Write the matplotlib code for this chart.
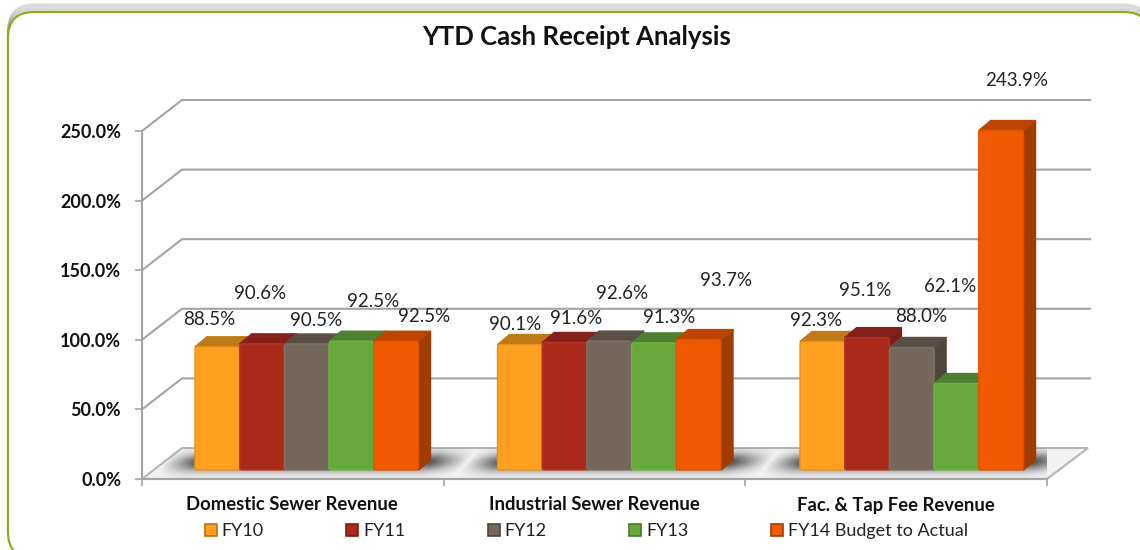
import numpy as np
import matplotlib
matplotlib.use("Agg")
import matplotlib.pyplot as plt
from matplotlib.lines import Line2D
from matplotlib.patches import FancyBboxPatch, Polygon

categories = ["Domestic Sewer Revenue", "Industrial Sewer Revenue", "Fac. & Tap Fee Revenue"]
series_names = ["FY10", "FY11", "FY12", "FY13", "FY14 Budget to Actual"]
fy10 = [88.5, 90.1, 92.3]
fy11 = [90.6, 91.6, 95.1]
fy12 = [90.5, 92.6, 88.0]
fy13 = [92.5, 91.3, 62.1]
fy14 = [92.5, 93.7, 243.9]
y_ticks = [0, 50, 100, 150, 200, 250]

# excel moved the data labels around by hand, offsets from bar top centre in px
label_dx = [[-8, -5, -6], [-2, 12, -2], [9, 13, 9], [22, 15, -6], [28, 27, 15]]
label_dy = [[27, 20, 21], [50, 24, 47], [24, 48, 31], [40, 25, 97], [25, 59, 50]]
cat_label_dx = [-1, 0, 0]

front_cols = ["#FFA020", "#AA2A1C", "#736859", "#67A83C", "#F05A00"]
top_cols = ["#BF7A18", "#85201A", "#5A4F44", "#4E8030", "#BC4600"]
side_cols = ["#B87414", "#7E1E14", "#4F463C", "#477A2A", "#A03C00"]
edge_cols = ["#E8921C", "#B8342A", "#7E7364", "#72B248", "#E05200"]
grid_col = "#A3A3A3"

plt.rcParams["font.family"] = ["Lato", "DejaVu Sans"]

W, H = 1140, 550
fig = plt.figure(figsize=(W / 100, H / 100), dpi=100)

# outer rounded frame, drawn in figure pixels, runs off the right and bottom edge
bg = fig.add_axes([0, 0, 1, 1])
bg.set_xlim(0, W)
bg.set_ylim(H, 0)
bg.axis("off")
r = 26
frame_w, frame_h = 1142, 546
for i in range(9):
    bg.add_patch(FancyBboxPatch((8 + r, 12 - i + r), frame_w - 2 * r, frame_h - 2 * r,
                                boxstyle=f"round,pad={r},rounding_size={r}",
                                fc="none", ec="#000000", lw=1.5, alpha=0.07))
bg.add_patch(FancyBboxPatch((8 + r, 12 + r), frame_w - 2 * r, frame_h - 2 * r,
                            boxstyle=f"round,pad={r},rounding_size={r}",
                            fc="white", ec="#96A820", lw=1.6))

ax = fig.add_axes([142 / W, (H - 479) / H, 905 / W, 348 / H])
ax.patch.set_visible(False)
ax.set_xlim(0, 3)
ax.set_ylim(0, 250)

# px -> data sizes
ux = 3 / 905
uy = 250 / 348
back_x, back_y = 40 * ux, 31 * uy

bar_w = 44.7 * ux
first = 53 * ux
group_step = 302.5 * ux
base = 9 * uy
dep_x, dep_y = 12 * ux, 10 * uy

# walls
for t in y_ticks[1:]:
    ax.plot([0, back_x, 3 + 43 * ux], [t, t + back_y, t + back_y],
            color=grid_col, lw=1.5, clip_on=False, zorder=1, solid_joinstyle="miter")

# floor with soft shadow around each group of bars, slanted like the floor
floor = Polygon([(0, 0), (3, 0), (3 + 41 * ux, back_y), (back_x, back_y)], closed=True,
                fc="#F2F2F2", ec="#B5B5B5", lw=1.5, clip_on=False, zorder=2)
ax.add_patch(floor)
xs = np.linspace(0, 3 + back_x, 1000)
ys = np.linspace(0, 1, 60)
xx, yy = np.meshgrid(xs, ys)
sx = xx - (yy - 0.5) * 25 * ux
along = np.zeros_like(xx)
for c in range(3):
    g_left = first + c * group_step
    g_right = g_left + 5 * bar_w + dep_x
    fade = np.clip((sx - (g_left - 32 * ux)) / (32 * ux), 0, 1) * np.clip(((g_right + 36 * ux) - sx) / (36 * ux), 0, 1)
    along = np.maximum(along, fade)
across = np.exp(-((yy - 0.55) / 0.3) ** 2)
rgba = np.zeros((60, 1000, 4))
rgba[..., 3] = 0.62 * along * across
img = ax.imshow(rgba, extent=[0, 3 + back_x, 0, back_y], origin="lower", aspect="auto", zorder=3)
img.set_clip_path(floor)
ax.set_xlim(0, 3)
ax.set_ylim(0, 250)

# bars
series = [fy10, fy11, fy12, fy13, fy14]
for i, vals in enumerate(series):
    for c, v in enumerate(vals):
        left = first + c * group_step + i * bar_w
        top = base + v
        z = 5 + i * 0.1
        ax.add_patch(Polygon([(left + bar_w, base), (left + bar_w + dep_x, base + dep_y),
                              (left + bar_w + dep_x, top + dep_y), (left + bar_w, top)],
                             fc=side_cols[i], ec=side_cols[i], lw=1, joinstyle="round",
                             clip_on=False, zorder=z))
        ax.add_patch(Polygon([(left, top), (left + dep_x, top + dep_y),
                              (left + bar_w + dep_x, top + dep_y), (left + bar_w, top)],
                             fc=top_cols[i], ec=top_cols[i], lw=1, joinstyle="round",
                             clip_on=False, zorder=z))
        ax.add_patch(FancyBboxPatch((left, base), bar_w, v, boxstyle=f"round,pad=0,rounding_size={2.5 * ux}",
                                    mutation_aspect=uy / ux, fc=front_cols[i], ec=edge_cols[i], lw=1,
                                    clip_on=False, zorder=z + 0.05))
        ax.annotate(f"{v:.1f}%", (left + bar_w / 2, top),
                    xytext=(label_dx[i][c], label_dy[i][c]), textcoords="offset pixels",
                    ha="center", va="center", fontsize=13.5, color="#222222",
                    annotation_clip=False, zorder=8)

# axes
for s in ["top", "right"]:
    ax.spines[s].set_visible(False)
for s in ["left", "bottom"]:
    ax.spines[s].set_color(grid_col)
    ax.spines[s].set_linewidth(1.5)
    ax.spines[s].set_zorder(4)
ax.set_yticks(y_ticks)
ax.set_yticklabels([f"{t:.1f}%" for t in y_ticks], fontweight="bold", fontsize=13, color="#111111")
ax.set_xticks([0, 1, 2, 3])
ax.set_xticklabels([])
ax.tick_params(axis="both", color=grid_col, width=1.2, length=5)
ax.tick_params(axis="y", pad=10)
for c, name in enumerate(categories):
    ax.annotate(name, (c + 0.5, 0), xytext=(cat_label_dx[c], -26), textcoords="offset pixels",
                ha="center", va="center", fontweight="bold", fontsize=13.3, color="#111111",
                annotation_clip=False)

fig.text(577 / W, 1 - 37 / H, "YTD Cash Receipt Analysis", ha="center", va="center",
         fontsize=18.5, fontweight="bold", color="#111111")

handles = [Line2D([], [], ls="none", marker="s", ms=8, mfc=front_cols[i], mec=side_cols[i], mew=1.2)
           for i in range(5)]
fig.legend(handles, series_names, loc="center left", bbox_to_anchor=(202 / W, 1 - 531 / H), ncol=5,
           frameon=False, fontsize=13, handlelength=1.0, handletextpad=0.1, columnspacing=4.4,
           labelcolor="#222222", borderpad=0, borderaxespad=0)

fig.savefig("out.png", dpi=100)
